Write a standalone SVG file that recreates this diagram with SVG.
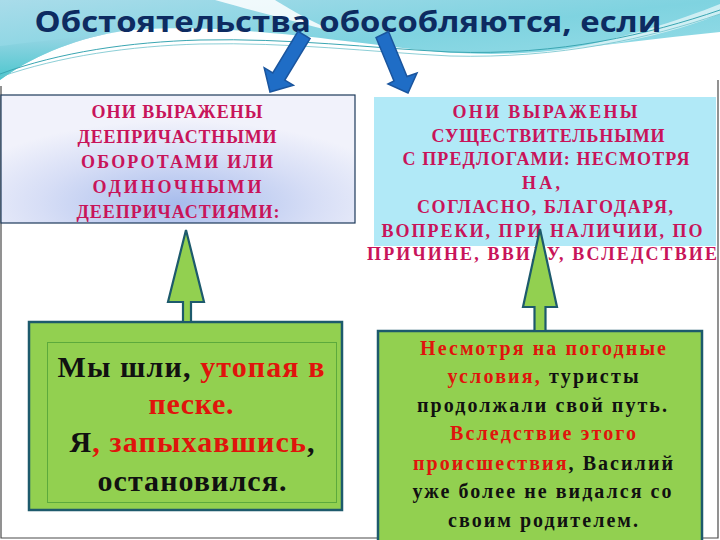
<svg xmlns="http://www.w3.org/2000/svg" width="720" height="540" viewBox="0 0 720 540">
<defs>
<linearGradient id="hdr" x1="0" y1="0" x2="1" y2="1">
<stop offset="0" stop-color="#a9dcea"/>
<stop offset="0.5" stop-color="#7fd3e0"/>
<stop offset="1" stop-color="#9fe0ea"/>
</linearGradient>
<linearGradient id="hdr2" x1="0" y1="0" x2="0" y2="1">
<stop offset="0" stop-color="#9fd6e6"/>
<stop offset="1" stop-color="#3fc3c9"/>
</linearGradient>
<radialGradient id="lav" cx="0.5" cy="0.85" r="0.65">
<stop offset="0" stop-color="#a7bcec"/>
<stop offset="0.6" stop-color="#d7def6"/>
<stop offset="1" stop-color="#f1f2fb"/>
</radialGradient>
<style>
.frame{fill:none;stroke:#4a4a4a;stroke-width:1.2}
.red{fill:#e0140c}
.blk{fill:#111}
.gbox{fill:#92d050;stroke:#1d5a6c;stroke-width:2.5}
.garr{fill:#92d050;stroke:#1d5a6c;stroke-width:2.2;stroke-linejoin:miter}
.barr{fill:#1f6dc6;stroke:#1a559e;stroke-width:1.5;stroke-linejoin:miter}
</style>
</defs>
<rect width="720" height="540" fill="#ffffff"/>
<path d="M0,0 H720 V32 C660,38 600,46 540,52 C500,55 470,54 440,52 C380,46 330,38 260,32 C200,27 150,27 117,32 C70,40 30,58 0,80 Z" fill="url(#hdr)"/>
<path d="M0,80 C30,58 70,40 117,32 C90,36 50,40 0,46 Z" fill="url(#hdr2)" opacity="0.8"/>
<path d="M215,0 C250,10 290,20 335,32 C300,16 285,6 275,0 Z" fill="#ffffff" opacity="0.85"/>
<path d="M560,50 C620,40 680,20 720,4 V14 C680,30 630,44 560,50 Z" fill="#ffffff" opacity="0.6"/>
<path d="M0,74 C60,52 130,42 200,40 C290,38 370,48 450,52 C560,56 650,34 720,10" fill="none" stroke="#3aa6b2" stroke-width="1"/>
<path d="M0,77 C60,56 130,46 200,44 C290,42 370,52 450,56 C560,59 650,38 720,14" fill="none" stroke="#6fc2cc" stroke-width="0.8"/>
<text x="348" y="32" font-family="Open Sans" font-size="29" font-weight="bold" fill="#0d2b61" text-anchor="middle" textLength="627" lengthAdjust="spacingAndGlyphs">Обстоятельства обособляются, если</text>
<path class="frame" d="M1,86 V538 H718 V80"/>
<g id="node-gerund">
<rect x="1" y="95" width="354" height="128" fill="url(#lav)" stroke="#1d3a5a" stroke-width="1.2"/>
</g>
<text x="91.5" y="118" textLength="171" font-family="Liberation Serif" font-size="18" font-weight="bold" fill="#c8145a">ОНИ ВЫРАЖЕНЫ</text>
<text x="77.5" y="143" textLength="199" font-family="Liberation Serif" font-size="18" font-weight="bold" fill="#c8145a">ДЕЕПРИЧАСТНЫМИ</text>
<text x="81" y="168" textLength="192" font-family="Liberation Serif" font-size="18" font-weight="bold" fill="#c8145a">ОБОРОТАМИ ИЛИ</text>
<text x="92.5" y="193" textLength="169" font-family="Liberation Serif" font-size="18" font-weight="bold" fill="#c8145a">ОДИНОЧНЫМИ</text>
<text x="76.5" y="218" textLength="203" font-family="Liberation Serif" font-size="18" font-weight="bold" fill="#c8145a">ДЕЕПРИЧАСТИЯМИ:</text>
<g id="node-noun">
<rect x="374" y="97" width="342" height="149" fill="#b1e9f7"/>
</g>
<text x="452.5" y="118" textLength="185" font-family="Liberation Serif" font-size="18" font-weight="bold" fill="#c8145a">ОНИ ВЫРАЖЕНЫ</text>
<text x="431.5" y="142" textLength="233" font-family="Liberation Serif" font-size="18" font-weight="bold" fill="#c8145a">СУЩЕСТВИТЕЛЬНЫМИ</text>
<text x="402.5" y="165" textLength="287" font-family="Liberation Serif" font-size="18" font-weight="bold" fill="#c8145a">С ПРЕДЛОГАМИ: НЕСМОТРЯ</text>
<text x="522" y="189" textLength="38" font-family="Liberation Serif" font-size="18" font-weight="bold" fill="#c8145a">НА,</text>
<text x="417" y="213" textLength="256" font-family="Liberation Serif" font-size="18" font-weight="bold" fill="#c8145a">СОГЛАСНО, БЛАГОДАРЯ,</text>
<text x="381.5" y="237" textLength="321" font-family="Liberation Serif" font-size="18" font-weight="bold" fill="#c8145a">ВОПРЕКИ, ПРИ НАЛИЧИИ, ПО</text>
<text x="367" y="260" textLength="350" font-family="Liberation Serif" font-size="18" font-weight="bold" fill="#c8145a">ПРИЧИНЕ, ВВИДУ, ВСЛЕДСТВИЕ</text>
<g id="node-example1">
<rect class="gbox" x="29" y="322" width="313" height="188"/>
<rect x="47.5" y="342.5" width="289" height="160" fill="none" stroke="#5caa3c" stroke-width="1"/>
</g>
<text x="57.5" y="377" textLength="267" font-family="Liberation Serif" font-size="30" font-weight="bold" fill="#111111"><tspan class="blk">Мы шли, </tspan><tspan class="red">утопая в</tspan></text>
<text x="148.5" y="414" textLength="85" font-family="Liberation Serif" font-size="30" font-weight="bold" fill="#e0140c">песке.</text>
<text x="69.5" y="452" textLength="245" font-family="Liberation Serif" font-size="30" font-weight="bold" fill="#111111"><tspan class="blk">Я</tspan><tspan class="red">, запыхавшись</tspan><tspan class="blk">,</tspan></text>
<text x="97.5" y="491" textLength="189" font-family="Liberation Serif" font-size="30" font-weight="bold" fill="#111111">остановился.</text>
<g id="node-example2">
<rect class="gbox" x="378" y="331" width="324" height="215"/>
</g>
<text x="420" y="355" textLength="246" font-family="Liberation Serif" font-size="20" font-weight="bold" fill="#e0140c">Несмотря на погодные</text>
<text x="447.5" y="383" textLength="191" font-family="Liberation Serif" font-size="20" font-weight="bold" fill="#111111"><tspan class="red">условия,</tspan><tspan class="blk"> туристы</tspan></text>
<text x="417" y="412" textLength="250" font-family="Liberation Serif" font-size="20" font-weight="bold" fill="#111111">продолжали свой путь.</text>
<text x="450" y="440" textLength="186" font-family="Liberation Serif" font-size="20" font-weight="bold" fill="#e0140c">Вследствие этого</text>
<text x="413" y="470" textLength="260" font-family="Liberation Serif" font-size="20" font-weight="bold" fill="#111111"><tspan class="red">происшествия</tspan><tspan class="blk">, Василий</tspan></text>
<text x="412.5" y="498" textLength="259" font-family="Liberation Serif" font-size="20" font-weight="bold" fill="#111111">уже более не видался со</text>
<text x="448" y="527" textLength="190" font-family="Liberation Serif" font-size="20" font-weight="bold" fill="#111111">своим родителем.</text>
<g id="connectors">
<polygon class="barr" points="310,38.6 284.8,80.1 293.4,85.3 270,92 264.2,67.7 272.8,72.9 298,31.4"/>
<polygon class="barr" points="376,37.5 394,81 388,84 408,93 417,73 407,76.5 388.5,31.5"/>
<polygon class="garr" points="186,230 204,302 191,302 191,322 183,322 183,302 168,302"/>
<polygon class="garr" points="540,229 557,307 545.5,307 545.5,331 534.5,331 534.5,307 523,307"/>
</g>
</svg>
